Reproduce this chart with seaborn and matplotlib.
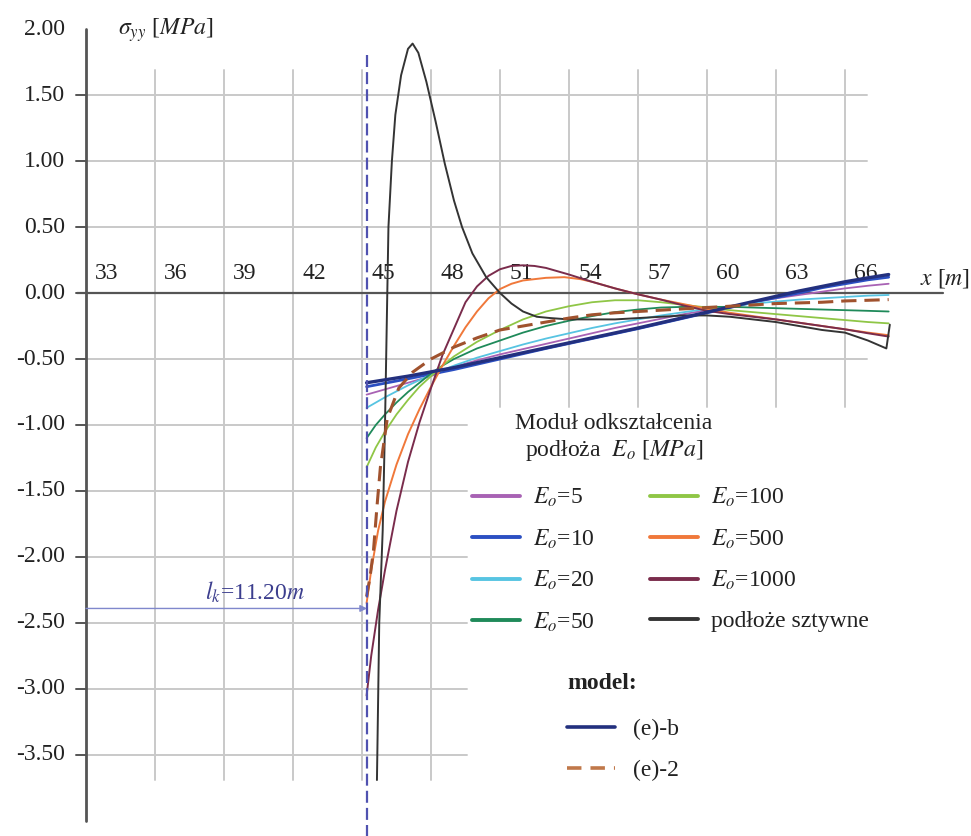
import matplotlib
matplotlib.use("Agg")
import matplotlib.pyplot as plt
import numpy as np
import pandas as pd
import seaborn as sns
from matplotlib.lines import Line2D

sns.set_theme(style="white")
plt.rcParams["font.family"] = ["Liberation Serif", "DejaVu Serif"]
plt.rcParams["mathtext.fontset"] = "stix"

# ---- stress sigma_yy [MPa] along x [m] for different subgrade moduli ----
X_E5 = [45.2, 46, 47, 48, 49, 50, 51, 52, 53, 54, 55, 56, 57, 58, 59, 60, 61, 62, 63, 64, 65, 66, 67, 67.9]
Y_E5 = [-0.77, -0.73, -0.68, -0.63, -0.56, -0.51, -0.465, -0.425, -0.385, -0.345, -0.305, -0.265, -0.23,
        -0.195, -0.16, -0.13, -0.10, -0.07, -0.04, -0.015, 0.01, 0.035, 0.055, 0.07]

X_E10 = [45.2, 47, 49, 51, 53, 55, 57, 59, 60, 61, 62, 63, 64, 65, 66, 67, 67.9]
Y_E10 = [-0.71, -0.65, -0.58, -0.50, -0.42, -0.345, -0.27, -0.19, -0.15, -0.11, -0.07, -0.035, 0.0,
         0.04, 0.07, 0.10, 0.12]

X_E20 = [45.2, 46, 47, 48, 49, 50, 51, 52, 53, 54, 55, 56, 57, 58, 59, 60, 61, 62, 63, 64, 65, 66, 67, 67.9]
Y_E20 = [-0.87, -0.79, -0.70, -0.62, -0.55, -0.49, -0.44, -0.39, -0.345, -0.305, -0.265, -0.23, -0.20,
         -0.17, -0.145, -0.12, -0.10, -0.08, -0.065, -0.05, -0.04, -0.03, -0.02, -0.015]

X_E50 = [45.2, 45.6, 46, 46.5, 47, 47.5, 48, 48.5, 49, 50, 51, 52, 53, 54, 55, 56, 57, 58, 59, 60,
         61, 62, 63, 64, 65, 66, 67, 67.9]
Y_E50 = [-1.10, -1.0, -0.92, -0.83, -0.75, -0.68, -0.61, -0.55, -0.50, -0.42, -0.36, -0.30, -0.25,
         -0.21, -0.175, -0.145, -0.125, -0.11, -0.105, -0.105, -0.105, -0.11, -0.115, -0.12, -0.125,
         -0.13, -0.135, -0.14]

X_E100 = [45.2, 45.6, 46, 46.5, 47, 47.5, 48, 48.5, 49, 50, 51, 52, 53, 54, 55, 56, 57, 58, 59, 60,
          61, 62, 63, 64, 65, 66, 67, 67.9]
Y_E100 = [-1.32, -1.17, -1.05, -0.92, -0.81, -0.71, -0.63, -0.55, -0.48, -0.37, -0.28, -0.20, -0.14,
          -0.10, -0.07, -0.055, -0.055, -0.07, -0.09, -0.11, -0.13, -0.145, -0.16, -0.175, -0.19,
          -0.205, -0.22, -0.23]

X_E500 = [45.2, 45.4, 45.7, 46, 46.5, 47, 47.5, 48, 48.5, 49, 49.5, 50, 50.5, 51, 51.5, 52, 53, 53.8,
          54.5, 55, 56, 57, 58, 59, 60, 61, 62, 63, 64, 65, 66, 67, 67.9]
Y_E500 = [-2.35, -2.1, -1.8, -1.58, -1.3, -1.07, -0.88, -0.71, -0.55, -0.40, -0.26, -0.14, -0.04, 0.03,
          0.07, 0.095, 0.115, 0.12, 0.105, 0.085, 0.035, -0.01, -0.05, -0.085, -0.12, -0.15, -0.175,
          -0.20, -0.225, -0.25, -0.275, -0.30, -0.32]

X_E1000 = [45.2, 45.4, 45.7, 46, 46.5, 47, 47.5, 48, 48.5, 49, 49.5, 50, 50.5, 51, 51.5, 52, 52.5, 53,
           54, 55, 56, 57, 58, 59, 60, 61, 62, 63, 64, 65, 66, 67, 67.9]
Y_E1000 = [-3.05, -2.75, -2.4, -2.1, -1.65, -1.28, -0.98, -0.72, -0.47, -0.27, -0.07, 0.05, 0.13, 0.18,
           0.205, 0.21, 0.205, 0.19, 0.14, 0.085, 0.035, -0.01, -0.05, -0.095, -0.135, -0.16, -0.18,
           -0.20, -0.225, -0.25, -0.275, -0.305, -0.33]

X_RIGID = [45.65, 45.75, 45.9, 46.0, 46.1, 46.15, 46.3, 46.45, 46.7, 47.0, 47.2, 47.45, 47.8, 48.2,
           48.6, 49.0, 49.35, 49.8, 50.4, 51.0, 51.5, 52.0, 52.6, 53.2, 54, 55, 56, 57, 58, 59, 60,
           61, 62, 63, 64, 65, 66, 67, 67.8, 67.95]
Y_RIGID = [-3.69, -2.5, -1.8, -1.0, 0.0, 0.5, 1.0, 1.35, 1.65, 1.85, 1.89, 1.82, 1.6, 1.3, 0.98, 0.7,
           0.5, 0.3, 0.12, 0.0, -0.08, -0.14, -0.18, -0.19, -0.2, -0.2, -0.2, -0.19, -0.18, -0.17,
           -0.17, -0.18, -0.2, -0.22, -0.25, -0.28, -0.3, -0.36, -0.42, -0.24]

# ---- calculation models ----
X_EB = [45.2, 47, 49, 51, 53, 55, 57, 59, 60, 61, 62, 63, 64, 65, 66, 67, 67.9]
Y_EB = [-0.68, -0.63, -0.565, -0.49, -0.415, -0.34, -0.265, -0.185, -0.145, -0.105, -0.065, -0.025,
        0.015, 0.05, 0.085, 0.115, 0.14]

X_E2 = [45.2, 45.35, 45.5, 45.65, 45.8, 46.1, 46.6, 47.2, 48, 49, 50, 51, 52, 53, 54, 55, 56, 57, 58,
        59, 60, 61, 62, 63, 64, 65, 66, 67, 67.9]
Y_E2 = [-2.3, -2.15, -1.95, -1.62, -1.32, -0.95, -0.72, -0.6, -0.5, -0.41, -0.34, -0.28, -0.25, -0.22,
        -0.19, -0.165, -0.15, -0.14, -0.13, -0.12, -0.11, -0.10, -0.09, -0.08, -0.075, -0.07, -0.06,
        -0.055, -0.05]

EO_LABELS = [r"$E_o$=5", r"$E_o$=10", r"$E_o$=20", r"$E_o$=50",
             r"$E_o$=100", r"$E_o$=500", r"$E_o$=1000", "podłoże sztywne"]
MODEL_LABELS = ["(e)-b", "(e)-2"]

X_TICKS = [33, 36, 39, 42, 45, 48, 51, 54, 57, 60, 63, 66]
Y_TICKS = [2.0, 1.5, 1.0, 0.5, 0.0, -0.5, -1.0, -1.5, -2.0, -2.5, -3.0, -3.5]

LK_X = 45.22      # end of the l_k span
LK_Y = -2.39

# ---- styles ----
EO_STYLES = [
    dict(color="#a862b4", linewidth=1.3),
    dict(color="#2b4fc2", linewidth=2.0),
    dict(color="#57c4e2", linewidth=1.3),
    dict(color="#1f8a5a", linewidth=1.3),
    dict(color="#8fc646", linewidth=1.3),
    dict(color="#f0783a", linewidth=1.4),
    dict(color="#7a2c4c", linewidth=1.4),
    dict(color="#343434", linewidth=1.4),
]
MODEL_STYLES = [
    dict(color="#23307e", linewidth=2.4),
    dict(color="#a0522e", linewidth=2.2, linestyle=(0, (5, 2.6))),
]

GRID_C = "#c9c9c9"
AXIS_C = "#555555"
TEXT_C = "#222222"
FS = 17

fig = plt.figure(figsize=(9.71, 8.36), dpi=100)
ax = fig.add_axes([0, 0, 1, 1])
ax.set_xlim(29.26, 71.48)
ax.set_ylim(-4.114, 2.22)
ax.axis("off")

# grid
for gx in X_TICKS[1:]:
    lo = -3.69 if gx <= 48 else -0.86
    ax.plot([gx, gx], [lo, 1.69], color=GRID_C, lw=1.4, zorder=1)
for gy in Y_TICKS[1:]:
    if gy == 0.0:
        continue
    hi = 66.96 if gy >= -0.5 else 49.57
    ax.plot([33, hi], [gy, gy], color=GRID_C, lw=1.4, zorder=1)

# axes
ax.plot([33, 33], [-4.0, 2.0], color=AXIS_C, lw=2.0, zorder=2)
ax.plot([32.6, 70.26], [0, 0], color=AXIS_C, lw=1.6, zorder=2)
for gy in Y_TICKS[1:]:
    ax.plot([32.57, 33], [gy, gy], color=AXIS_C, lw=1.4, zorder=2)
for gy in Y_TICKS:
    ax.text(32.09, gy, f"{gy:.2f}", ha="right", va="center", fontsize=FS, color=TEXT_C)
for gx in X_TICKS:
    ax.text(gx + 0.4, 0.15, str(gx), ha="left", va="center", fontsize=FS, color=TEXT_C)
ax.text(34.4, 1.99, r"$\sigma_{yy}$ [$MPa$]", ha="left", va="center", fontsize=FS, color=TEXT_C)
ax.text(69.26, 0.11, r"$x$ [$m$]", ha="left", va="center", fontsize=FS, color=TEXT_C)

# data curves
eo_data = [(X_E5, Y_E5), (X_E10, Y_E10), (X_E20, Y_E20), (X_E50, Y_E50),
           (X_E100, Y_E100), (X_E500, Y_E500), (X_E1000, Y_E1000), (X_RIGID, Y_RIGID)]
draw_order = [4, 3, 2, 0, 1, 5, 6, 7]
for i in draw_order:
    xs, ys = eo_data[i]
    df = pd.DataFrame({"x": xs, "y": ys})
    sns.lineplot(data=df, x="x", y="y", ax=ax, sort=False, estimator=None,
                 legend=False, zorder=3 + i * 0.1, **EO_STYLES[i])

model_data = [(X_EB, Y_EB), (X_E2, Y_E2)]
for i, (xs, ys) in enumerate(model_data):
    df = pd.DataFrame({"x": xs, "y": ys})
    sns.lineplot(data=df, x="x", y="y", ax=ax, sort=False, estimator=None,
                 legend=False, zorder=4 + i * 0.1, **MODEL_STYLES[i])
ax.set_xlabel("")
ax.set_ylabel("")

# l_k marker line and span
ax.plot([LK_X, LK_X], [-4.2, 1.82], color="#5052b0", lw=1.6,
        linestyle=(0, (5.4, 2.3)), zorder=5)
ax.annotate("", xy=(LK_X, LK_Y), xytext=(33, LK_Y),
            arrowprops=dict(arrowstyle="-|>", color="#8088cc", lw=1.0,
                            mutation_scale=10, shrinkA=0, shrinkB=0), zorder=5)
ax.text(40.35, -2.265, r"$l_k$=11.20$m$", ha="center", va="center",
        fontsize=FS, color="#3c3e8e")

# legends
ax.text(55.96, -1.10, "Moduł odkształcenia\npodłoża  $E_o$ [$MPa$]", ha="center",
        va="center", multialignment="center", fontsize=FS, color=TEXT_C,
        linespacing=1.2)
eo_handles = [Line2D([], [], color=s["color"], lw=2.8) for s in EO_STYLES]
leg1 = ax.legend(eo_handles, EO_LABELS, ncol=2, loc="upper left",
                 bbox_to_anchor=(472 / 971, 1 - 486 / 836), frameon=False,
                 fontsize=FS, handlelength=2.05, handletextpad=0.55,
                 columnspacing=2.3, labelspacing=0.77, borderpad=0, borderaxespad=0)
for t in leg1.get_texts():
    t.set_color(TEXT_C)
ax.add_artist(leg1)

ax.text(55.43, -2.955, "model:", ha="center", va="center", fontsize=FS,
        fontweight="bold", color=TEXT_C)
model_handles = [Line2D([], [], color=MODEL_STYLES[0]["color"], lw=2.6),
                 Line2D([], [], color="#c0784a", lw=2.6, linestyle=(0, (4, 2.5)))]
leg2 = ax.legend(model_handles, MODEL_LABELS, loc="upper left",
                 bbox_to_anchor=(567 / 971, 1 - 719 / 836), frameon=False,
                 fontsize=FS, handlelength=2.05, handletextpad=0.75,
                 labelspacing=0.82, borderpad=0, borderaxespad=0)
for t in leg2.get_texts():
    t.set_color(TEXT_C)

fig.savefig("out.png", dpi=100, facecolor="white")
